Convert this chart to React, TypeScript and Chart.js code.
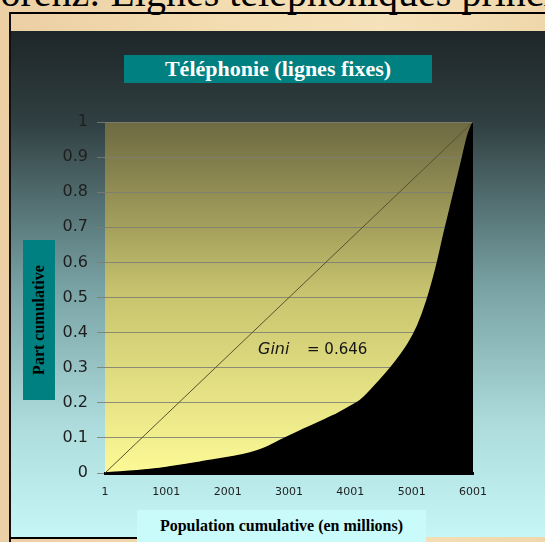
import React, { useEffect, useRef } from "react";
import { Chart, registerables } from "chart.js";

Chart.register(...registerables);

// ---- data ----
const populationMillions = [1, 734, 1550, 2366, 2578, 2904, 3182, 3720, 4001, 4160, 4486, 4750, 4950, 5100, 5247, 5400, 5530, 5660, 5791, 5922, 6001];
const cumulativeShare = [0, 0.01, 0.031, 0.057, 0.069, 0.097, 0.12, 0.163, 0.19, 0.206, 0.265, 0.32, 0.37, 0.42, 0.49, 0.585, 0.683, 0.777, 0.871, 0.965, 1];
const equalityX = [1, 6001];
const equalityY = [0, 1];
const xTickValues = [1, 1001, 2001, 3001, 4001, 5001, 6001];
const yTickValues = [0, 0.1, 0.2, 0.3, 0.4, 0.5, 0.6, 0.7, 0.8, 0.9, 1];
const yTickLabels = ["0", "0.1", "0.2", "0.3", "0.4", "0.5", "0.6", "0.7", "0.8", "0.9", "1"];
const giniLabel = "Gini";
const giniValue = "= 0.646";
const giniAnchor = { x: 2496, y: 0.35 };

const pageTitle = "Lorenz: Lignes téléphoniques principales";
const chartTitle = "Téléphonie (lignes fixes)";
const yTitle = "Part cumulative";
const xTitle = "Population cumulative (en millions)";

const W = 545;
const H = 542;

const backgroundPlugin = {
  id: "panelBackground",
  beforeDraw(chart: any) {
    const { ctx, chartArea: a } = chart;
    ctx.save();
    const g = ctx.createLinearGradient(0, 31, 0, 537);
    g.addColorStop(0, "#1e2628");
    g.addColorStop(0.18, "#303f41");
    g.addColorStop(0.5, "#77a0a2");
    g.addColorStop(0.78, "#aedcdd");
    g.addColorStop(1, "#c6f6f6");
    ctx.fillStyle = g;
    ctx.fillRect(11, 31, W - 11, 537 - 31);
    const pg = ctx.createLinearGradient(0, a.top, 0, a.bottom);
    pg.addColorStop(0, "#6d6942");
    pg.addColorStop(0.5, "#c9c56f");
    pg.addColorStop(1, "#fcf996");
    ctx.fillStyle = pg;
    ctx.fillRect(a.left, a.top, a.right - a.left, a.bottom - a.top);
    ctx.restore();
  },
};

const giniPlugin = {
  id: "giniText",
  afterDatasetsDraw(chart: any) {
    const { ctx, scales } = chart;
    const x = scales.x.getPixelForValue(giniAnchor.x);
    const y = scales.y.getPixelForValue(giniAnchor.y);
    ctx.save();
    ctx.fillStyle = "#151515";
    ctx.textBaseline = "middle";
    ctx.textAlign = "left";
    ctx.font = "italic 16px 'DejaVu Sans'";
    ctx.fillText(giniLabel, x, y);
    ctx.font = "15px 'DejaVu Sans'";
    ctx.fillText(giniValue, x + 49, y);
    ctx.restore();
  },
};

function LorenzChart() {
  const ref = useRef<HTMLCanvasElement | null>(null);
  useEffect(() => {
    if (!ref.current) return;
    const chart = new Chart(ref.current, {
      type: "line",
      data: {
        datasets: [
          {
            data: equalityX.map((x, i) => ({ x, y: equalityY[i] })),
            borderColor: "#57532f",
            borderWidth: 1,
            pointRadius: 0,
            fill: false,
          },
          {
            data: populationMillions.map((x, i) => ({ x, y: cumulativeShare[i] })),
            borderColor: "#000",
            backgroundColor: "#000",
            borderWidth: 1.5,
            pointRadius: 0,
            fill: "origin",
            cubicInterpolationMode: "monotone",
          },
        ],
      },
      options: {
        responsive: false,
        animation: false,
        devicePixelRatio: 1,
        layout: { padding: { left: 45, right: 72, top: 122, bottom: 29 } },
        plugins: { legend: { display: false }, tooltip: { enabled: false }, title: { display: false } },
        scales: {
          x: {
            type: "linear",
            min: 1,
            max: 6001,
            afterFit: (s: any) => { s.height = 40; },
            afterBuildTicks: (s: any) => { s.ticks = xTickValues.map((v) => ({ value: v })); },
            grid: { display: false, drawTicks: false },
            border: { display: true, color: "#000", width: 3 },
            ticks: {
              padding: 13,
              color: "#1e1e1e",
              font: { family: "'DejaVu Sans'", size: 11 },
              maxRotation: 0,
              autoSkip: false,
              callback: (v: any) => String(v),
            },
          },
          y: {
            type: "linear",
            min: 0,
            max: 1,
            afterFit: (s: any) => { s.width = 60; },
            afterBuildTicks: (s: any) => { s.ticks = yTickValues.map((v) => ({ value: v })); },
            grid: { color: "rgba(125,125,115,0.85)", lineWidth: 1, tickLength: 8, drawTicks: true },
            border: { display: false },
            ticks: {
              padding: 9,
              color: "#1e1e1e",
              font: { family: "'DejaVu Sans'", size: 16 },
              autoSkip: false,
              callback: (_v: any, i: number) => yTickLabels[i],
            },
          },
        },
      },
      plugins: [backgroundPlugin, giniPlugin],
    } as any);
    return () => chart.destroy();
  }, []);
  return <canvas ref={ref} width={W} height={H} style={{ position: "absolute", left: 0, top: 0, width: W, height: H }} />;
}

export default function App() {
  const serif = "'Liberation Serif', 'Times New Roman', serif";
  return (
    <div
      style={{
        position: "fixed",
        left: 0,
        top: 0,
        width: W,
        height: H,
        overflow: "hidden",
        background: "linear-gradient(90deg, #eccfa4 0%, #f3dcb0 40%, #f5e1ba 70%, #f0d7ab 100%)",
      }}
    >
      <div
        style={{
          position: "absolute",
          left: -24,
          top: -27,
          fontFamily: serif,
          fontSize: 40,
          lineHeight: "40px",
          whiteSpace: "nowrap",
          color: "#000",
        }}
      >
        {pageTitle}
      </div>
      <div style={{ position: "absolute", left: 10, top: 12, width: W - 10, height: 2, background: "#000" }} />
      <LorenzChart />
      <div style={{ position: "absolute", left: 9, top: 12, width: 2, height: H - 12, background: "#111" }} />
      <div style={{ position: "absolute", left: 10, top: 537, width: 128, height: 2, background: "#000" }} />
      <div
        style={{
          position: "absolute",
          left: 124,
          top: 55,
          width: 308,
          height: 28,
          background: "#008080",
          color: "#fff",
          fontFamily: serif,
          fontWeight: "bold",
          fontSize: 22,
          lineHeight: "28px",
          textAlign: "center",
        }}
      >
        {chartTitle}
      </div>
      <div
        style={{
          position: "absolute",
          left: 23,
          top: 240,
          width: 32,
          height: 160,
          background: "#008080",
        }}
      >
        <div
          style={{
            position: "absolute",
            left: 16,
            top: 80,
            transform: "translate(-50%, -50%) rotate(-90deg)",
            whiteSpace: "nowrap",
            fontFamily: serif,
            fontWeight: "bold",
            fontSize: 16,
            color: "#000",
          }}
        >
          {yTitle}
        </div>
      </div>
      <div
        style={{
          position: "absolute",
          left: 137,
          top: 510,
          width: 289,
          height: 32,
          background: "#c9fbfb",
          fontFamily: serif,
          fontWeight: "bold",
          fontSize: 16,
          lineHeight: "32px",
          textAlign: "center",
          color: "#000",
        }}
      >
        {xTitle}
      </div>
    </div>
  );
}
